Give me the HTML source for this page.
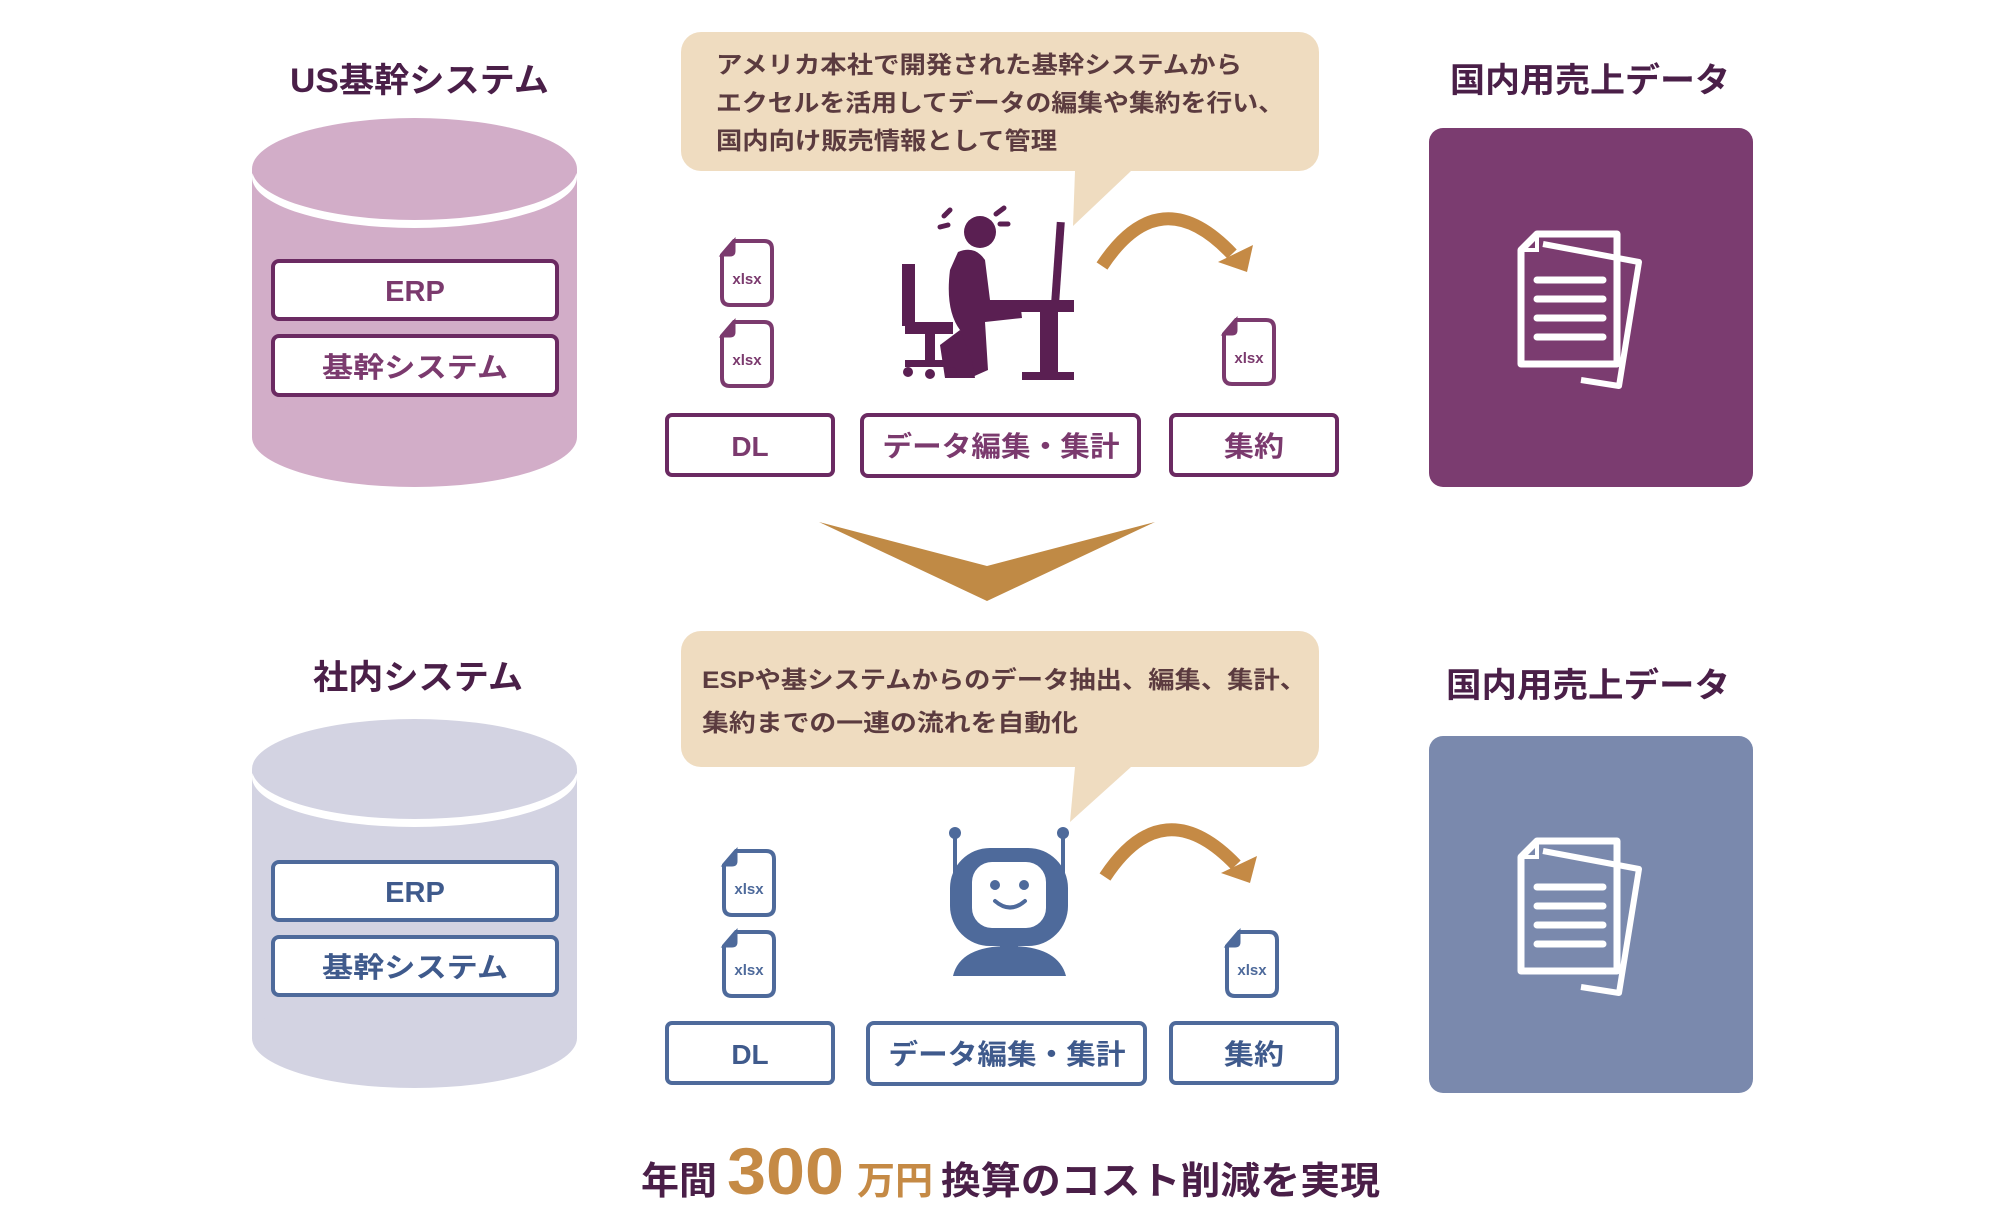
<!DOCTYPE html>
<html><head><meta charset="utf-8"><style>
html,body{margin:0;padding:0;background:#fff;}
svg{display:block;}
text{font-family:"Liberation Sans","Noto Sans CJK JP",sans-serif;font-weight:bold;}
</style></head><body>
<svg width="2000" height="1232" viewBox="0 0 2000 1232" xmlns="http://www.w3.org/2000/svg">
<defs>
<g id="xl">
  <path d="M14 2 H44 Q52 2 52 10 V58 Q52 66 44 66 H10 Q2 66 2 58 V16 Z" fill="#fff" stroke-width="4"/>
  <path d="M14 2 V12 Q14 16 10 16 H2 Z" stroke-width="3"/>
</g>
<g id="doc">
  <path d="M22 10 L118 28 L98 152 L60 146" fill="none" stroke="#fff" stroke-width="6" stroke-linejoin="round"/>
  <path d="M16 0 H96 V130 H0 V16 Z" fill="none" stroke="#fff" stroke-width="7" stroke-linejoin="round"/>
  <path d="M16 0 V16 H0" fill="none" stroke="#fff" stroke-width="4"/>
  <g stroke="#fff" stroke-width="7" stroke-linecap="round"><line x1="16" y1="46" x2="82" y2="46"/><line x1="16" y1="65" x2="82" y2="65"/><line x1="16" y1="84" x2="82" y2="84"/><line x1="16" y1="103" x2="82" y2="103"/></g>
</g>
</defs>

<!-- ===== TOP ===== -->
<text x="290" y="92" font-size="34" fill="#4a1f48" textLength="259" lengthAdjust="spacingAndGlyphs">US基幹システム</text>
<rect x="252" y="169" width="325" height="268" fill="#d2adc8"/>
<ellipse cx="414.5" cy="437" rx="162.5" ry="50" fill="#d2adc8"/>
<ellipse cx="414.5" cy="177" rx="162.5" ry="51" fill="#fff"/>
<ellipse cx="414.5" cy="169" rx="162.5" ry="51" fill="#d2adc8"/>
<rect x="273" y="261" width="284" height="58" rx="6" fill="#fff" stroke="#6b2a62" stroke-width="4"/>
<text x="415" y="301" font-size="29" fill="#7b3a6e" text-anchor="middle">ERP</text>
<rect x="273" y="336" width="284" height="59" rx="6" fill="#fff" stroke="#6b2a62" stroke-width="4"/>
<text x="415" y="377" font-size="28" fill="#7b3a6e" text-anchor="middle" textLength="186" lengthAdjust="spacingAndGlyphs">基幹システム</text>

<path d="M1075 171 L1073 226 L1131 171 Z" fill="#efdcc0"/>
<rect x="681" y="32" width="638" height="139" rx="20" fill="#efdcc0"/>
<g font-size="24" fill="#5b3b3f">
<text x="716" y="73" textLength="526" lengthAdjust="spacingAndGlyphs">アメリカ本社で開発された基幹システムから</text>
<text x="716" y="111" textLength="568" lengthAdjust="spacingAndGlyphs">エクセルを活用してデータの編集や集約を行い、</text>
<text x="716" y="149" textLength="341" lengthAdjust="spacingAndGlyphs">国内向け販売情報として管理</text>
</g>

<g fill="#7b3a6e" stroke="#7b3a6e">
<use href="#xl" x="720" y="239"/><use href="#xl" x="720" y="320"/><use href="#xl" x="1222" y="318"/>
</g>
<g font-size="15" fill="#7b3a6e" text-anchor="middle">
<text x="747" y="284">xlsx</text><text x="747" y="365">xlsx</text><text x="1249" y="363">xlsx</text>
</g>

<g fill="#5a1f52">
  <circle cx="980" cy="232" r="16"/>
  <path d="M944 216 l6 -6 M948 225 l-8 2" stroke="#5a1f52" stroke-width="5" stroke-linecap="round"/>
  <path d="M996 214 l8 -6 M1000 224 l8 0" stroke="#5a1f52" stroke-width="5" stroke-linecap="round"/>
  <path d="M958 252 Q975 245 985 260 L990 300 L1020 300 L1022 318 L985 322 L988 370 L970 378 L960 330 Q945 310 950 270 Z"/>
  <path d="M960 330 L940 345 L945 378 L975 378 L972 360 Z"/>
  <rect x="902" y="264" width="13" height="62"/>
  <rect x="905" y="322" width="48" height="12"/>
  <rect x="925" y="334" width="10" height="28"/>
  <rect x="905" y="360" width="50" height="7"/>
  <circle cx="908" cy="372" r="5"/><circle cx="930" cy="374" r="5"/><circle cx="952" cy="372" r="5"/>
  <rect x="1054" y="222" width="8" height="80" transform="rotate(4 1058 262)"/>
  <rect x="1010" y="300" width="64" height="12"/>
  <rect x="1040" y="312" width="18" height="68"/>
  <rect x="1022" y="372" width="52" height="8"/>
</g>
<path d="M1102 266 Q1160 178 1232 254" fill="none" stroke="#c58a45" stroke-width="13"/>
<path d="M1253 245 L1247 272 L1218 262 Z" fill="#c58a45"/>

<g fill="#fff" stroke="#6b2a62" stroke-width="4">
<rect x="667" y="415" width="166" height="60" rx="5"/>
<rect x="862" y="415" width="277" height="61" rx="6"/>
<rect x="1171" y="415" width="166" height="60" rx="5"/>
</g>
<g font-size="28" fill="#7b3a6e" text-anchor="middle">
<text x="750" y="456">DL</text>
<text x="1001" y="456" textLength="237" lengthAdjust="spacingAndGlyphs">データ編集・集計</text>
<text x="1254" y="456" textLength="60" lengthAdjust="spacingAndGlyphs">集約</text>
</g>

<text x="1450" y="92" font-size="34" fill="#4a1f48" textLength="280" lengthAdjust="spacingAndGlyphs">国内用売上データ</text>
<rect x="1429" y="128" width="324" height="359" rx="14" fill="#7b3c70"/>
<use href="#doc" x="1521" y="234"/>

<polygon points="819,522 987,566 1155,522 987,601" fill="#c08a45"/>

<!-- ===== BOTTOM ===== -->
<text x="313" y="689" font-size="34" fill="#4a1f48" textLength="210" lengthAdjust="spacingAndGlyphs">社内システム</text>
<rect x="252" y="769" width="325" height="269" fill="#d3d3e2"/>
<ellipse cx="414.5" cy="1038" rx="162.5" ry="50" fill="#d3d3e2"/>
<ellipse cx="414.5" cy="777" rx="162.5" ry="50" fill="#fff"/>
<ellipse cx="414.5" cy="769" rx="162.5" ry="50" fill="#d3d3e2"/>
<rect x="273" y="862" width="284" height="58" rx="6" fill="#fff" stroke="#4e6a9b" stroke-width="4"/>
<text x="415" y="902" font-size="29" fill="#3f5a8c" text-anchor="middle">ERP</text>
<rect x="273" y="937" width="284" height="58" rx="6" fill="#fff" stroke="#4e6a9b" stroke-width="4"/>
<text x="415" y="977" font-size="28" fill="#3f5a8c" text-anchor="middle" textLength="186" lengthAdjust="spacingAndGlyphs">基幹システム</text>

<path d="M1075 767 L1070 822 L1131 767 Z" fill="#efdcc0"/>
<rect x="681" y="631" width="638" height="136" rx="20" fill="#efdcc0"/>
<g font-size="24" fill="#5b3b3f">
<text x="702" y="688" textLength="604" lengthAdjust="spacingAndGlyphs">ESPや基システムからのデータ抽出、編集、集計、</text>
<text x="702" y="731" textLength="376" lengthAdjust="spacingAndGlyphs">集約までの一連の流れを自動化</text>
</g>

<g fill="#4e6a9b" stroke="#4e6a9b">
<use href="#xl" x="722" y="849"/><use href="#xl" x="722" y="930"/><use href="#xl" x="1225" y="930"/>
</g>
<g font-size="15" fill="#4e6a9b" text-anchor="middle">
<text x="749" y="894">xlsx</text><text x="749" y="975">xlsx</text><text x="1252" y="975">xlsx</text>
</g>

<g>
  <line x1="955" y1="835" x2="955" y2="880" stroke="#4e6a9b" stroke-width="4"/>
  <line x1="1063" y1="835" x2="1063" y2="880" stroke="#4e6a9b" stroke-width="4"/>
  <circle cx="955" cy="833" r="6" fill="#4e6a9b"/><circle cx="1063" cy="833" r="6" fill="#4e6a9b"/>
  <rect x="950" y="848" width="118" height="98" rx="40" fill="#4e6a9b"/>
  <rect x="972" y="862" width="74" height="66" rx="20" fill="#fff"/>
  <circle cx="995" cy="885" r="5" fill="#4e6a9b"/><circle cx="1024" cy="885" r="5" fill="#4e6a9b"/>
  <path d="M995 901 Q1010 914 1025 901" fill="none" stroke="#4e6a9b" stroke-width="4" stroke-linecap="round"/>
  <rect x="1000" y="940" width="18" height="12" fill="#4e6a9b"/>
  <path d="M953 976 Q960 946 1009 946 Q1058 946 1066 976 Z" fill="#4e6a9b"/>
</g>
<path d="M1105 877 Q1163 789 1236 865" fill="none" stroke="#c58a45" stroke-width="13"/>
<path d="M1257 856 L1250 883 L1221 873 Z" fill="#c58a45"/>

<g fill="#fff" stroke="#4e6a9b" stroke-width="4">
<rect x="667" y="1023" width="166" height="60" rx="5"/>
<rect x="868" y="1023" width="277" height="61" rx="6"/>
<rect x="1171" y="1023" width="166" height="60" rx="5"/>
</g>
<g font-size="28" fill="#3f5a8c" text-anchor="middle">
<text x="750" y="1064">DL</text>
<text x="1007" y="1064" textLength="237" lengthAdjust="spacingAndGlyphs">データ編集・集計</text>
<text x="1254" y="1064" textLength="60" lengthAdjust="spacingAndGlyphs">集約</text>
</g>

<text x="1446" y="697" font-size="34" fill="#4a1f48" textLength="284" lengthAdjust="spacingAndGlyphs">国内用売上データ</text>
<rect x="1429" y="736" width="324" height="357" rx="14" fill="#7a89ad"/>
<use href="#doc" x="1521" y="841"/>

<text x="641" y="1194" font-size="38" fill="#4a1f48" textLength="76" lengthAdjust="spacingAndGlyphs">年間</text>
<text x="727" y="1194" font-size="66" fill="#c58a45" textLength="117" lengthAdjust="spacingAndGlyphs">300</text>
<text x="857" y="1194" font-size="38" fill="#c58a45" textLength="76" lengthAdjust="spacingAndGlyphs">万円</text>
<text x="941" y="1194" font-size="38" fill="#4a1f48" textLength="439" lengthAdjust="spacingAndGlyphs">換算のコスト削減を実現</text>
</svg>
</body></html>
